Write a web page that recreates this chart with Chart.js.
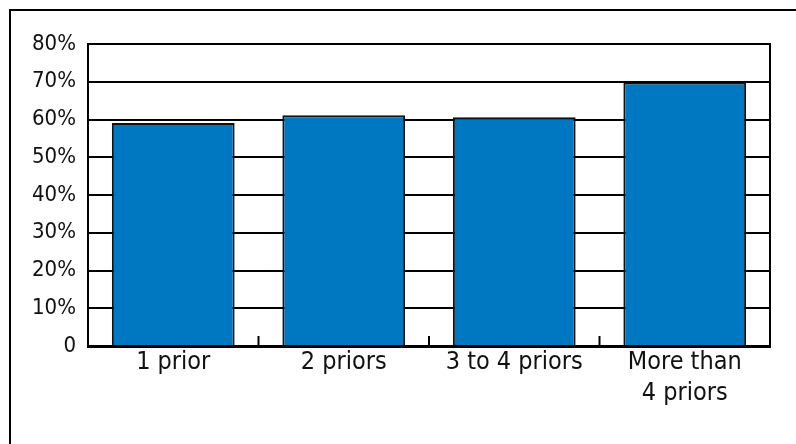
<!DOCTYPE html>
<html>
<head>
<meta charset="utf-8">
<script src="https://cdn.jsdelivr.net/npm/chart.js@4/dist/chart.umd.min.js"></script>
<style>
  html, body { margin: 0; padding: 0; background: #fff; }
  #wrap { position: relative; width: 796px; height: 444px; }
</style>
</head>
<body>
<div id="wrap"><canvas id="c" width="796" height="444"></canvas></div>
<script>
// Share of cases by number of priors
const categories = [["1 prior"], ["2 priors"], ["3 to 4 priors"], ["More than", "4 priors"]];
const shares = [59.1, 61.1, 60.6, 69.8];
const yTicks = [0, 10, 20, 30, 40, 50, 60, 70, 80];

const FONT = '"DejaVu Sans Condensed", "Liberation Sans Narrow", sans-serif';

// Frame around the figure, right edge of the plot and the small
// separators between categories along the baseline.
const decorations = {
  id: 'decorations',
  afterDraw(chart) {
    const ctx = chart.ctx;
    const area = chart.chartArea;
    const x = chart.scales.x;
    ctx.save();
    ctx.strokeStyle = '#000';
    ctx.lineWidth = 2;
    ctx.strokeRect(10, 10, 800, 450);
    ctx.beginPath();
    ctx.moveTo(area.right, area.top - 1);
    ctx.lineTo(area.right, area.bottom + 1);
    ctx.stroke();
    for (let i = 1; i < categories.length; i++) {
      const bx = (x.getPixelForValue(i - 1) + x.getPixelForValue(i)) / 2;
      ctx.beginPath();
      ctx.moveTo(bx, area.bottom);
      ctx.lineTo(bx, area.bottom - 10);
      ctx.stroke();
    }
    ctx.restore();
  }
};

new Chart(document.getElementById('c'), {
  type: 'bar',
  data: {
    labels: categories,
    datasets: [{
      data: shares,
      backgroundColor: '#0078C1',
      borderColor: '#111',
      borderWidth: 2,
      categoryPercentage: 1,
      barPercentage: 0.72
    }]
  },
  options: {
    responsive: false,
    animation: false,
    layout: { padding: { top: 44, right: 26, left: 0, bottom: 0 } },
    plugins: { legend: { display: false }, tooltip: { enabled: false } },
    scales: {
      x: {
        grid: { display: false },
        border: { display: true, color: '#000', width: 3 },
        ticks: {
          color: '#111',
          padding: -7,
          maxRotation: 0,
          font: { family: FONT, size: 25, lineHeight: 1.25 }
        },
        afterFit(scale) { scale.height = 98; }
      },
      y: {
        min: 0,
        max: 80,
        afterBuildTicks(scale) { scale.ticks = yTicks.map(v => ({ value: v })); },
        grid: { color: '#000', lineWidth: 2, drawTicks: false },
        border: { display: true, color: '#000', width: 2 },
        ticks: {
          color: '#111',
          padding: 12,
          font: { family: FONT, size: 22 },
          callback: v => v === 0 ? '0' : v + '%'
        },
        afterFit(scale) { scale.width = 88; }
      }
    }
  },
  plugins: [decorations]
});
</script>
</body>
</html>
